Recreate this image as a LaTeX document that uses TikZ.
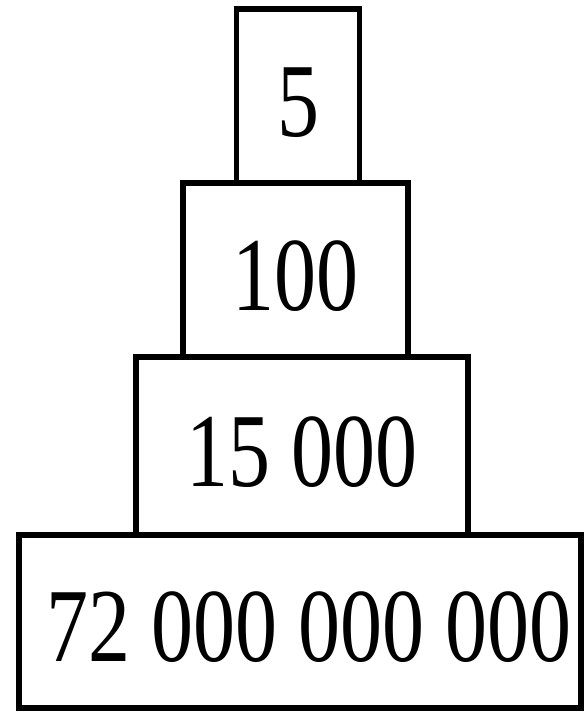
\documentclass[tikz,border=0pt]{standalone}
\usepackage{fontspec}
\setmainfont{Liberation Serif}
\usepackage{tikz}
\usetikzlibrary{positioning}

\newcommand{\tallnum}[1]{\scalebox{1}[1.25]{#1}}

\begin{document}
\begin{tikzpicture}[
  x=1pt, y=-1pt,
  tier/.style={draw, line width=5.5pt, rectangle, outer sep=0pt,
              inner sep=0pt, align=center, text height=80pt, text depth=0pt,
              font=\fontsize{84}{96}\selectfont}
]
  \useasboundingbox (0,0) rectangle (587,716);
  \node[tier, minimum width=123pt, minimum height=174pt] (lvlone) at (298,96) {\tallnum{5}};
  \node[tier, minimum width=225pt, minimum height=174pt,
        below=0pt of lvlone, xshift=-2.5pt] (lvltwo) {\tallnum{100}};
  \node[tier, minimum width=332pt, minimum height=178pt,
        below=0pt of lvltwo, xshift=6.5pt] (lvlthree) {\tallnum{15 000}};
  \node[tier, minimum width=562pt, minimum height=173pt,
        below=0pt of lvlthree, xshift=-2pt] (lvlfour) {\hspace{18pt}\tallnum{72 000 000 000}};
\end{tikzpicture}
\end{document}
